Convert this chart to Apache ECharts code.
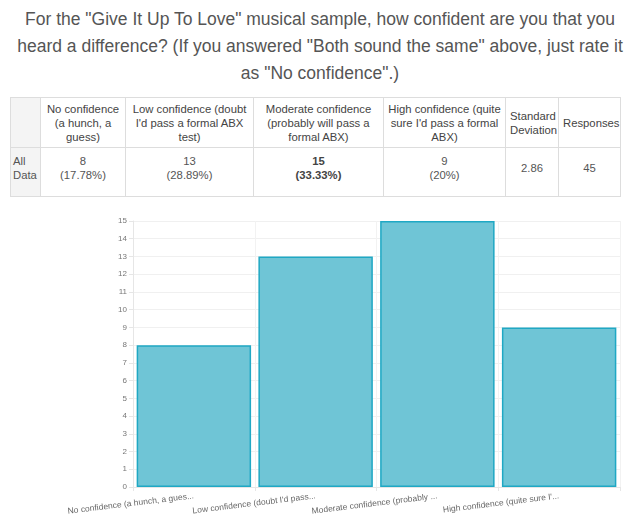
<!DOCTYPE html>
<html lang="en">
  <head>
    <meta charset="UTF-8" />
    <title>Give It Up To Love - confidence</title>
    <script src="https://cdn.jsdelivr.net/npm/echarts@6/dist/echarts.min.js"></script>
    <style>
      body { margin: 0; background: #fff; font-family: "Liberation Sans", Arial, sans-serif; color: #555; }
      #title { position: absolute; left: 12px; top: 6px; width: 616px; text-align: center; font-size: 17.5px; line-height: 27px; }
      #tbl { position: absolute; left: 10px; top: 97px; width: 610px; border-collapse: collapse; table-layout: fixed; font-size: 11.3px; line-height: 14px; }
      #tbl td, #tbl th { border: 1px solid #ddd; text-align: center; padding: 2px 4px; }
      #tbl th { font-weight: normal; color: #444; height: 45px; }
      #tbl td { height: 36px; padding-bottom: 10px; }
      #tbl .rowhead { background: #f4f4f4; text-align: left; padding-left: 2px; padding-right: 2px; }
      #tbl .hi { font-weight: bold; color: #444; }
      #chart { position: absolute; left: 0; top: 205px; width: 640px; height: 322px; }
    </style>
  </head>
  <body>
    <div id="title"></div>
    <table id="tbl">
      <colgroup>
        <col style="width: 30px" /><col style="width: 85px" /><col style="width: 128px" />
        <col style="width: 130px" /><col style="width: 122px" /><col style="width: 53px" /><col style="width: 62px" />
      </colgroup>
    </table>
    <div id="chart"></div>

    <script>
      const titleText = 'For the "Give It Up To Love" musical sample, how confident are you that you heard a difference? (If you answered "Both sound the same" above, just rate it as "No confidence".)';
      const categories = [
        "No confidence (a hunch, a guess)",
        "Low confidence (doubt I'd pass a formal ABX test)",
        "Moderate confidence (probably will pass a formal ABX)",
        "High confidence (quite sure I'd pass a formal ABX)",
      ];
      const tickLabels = [
        "No confidence (a hunch, a gues...",
        "Low confidence (doubt I'd pass...",
        "Moderate confidence (probably ...",
        "High confidence (quite sure I'...",
      ];
      const counts = [8, 13, 15, 9];
      const percents = ["17.78%", "28.89%", "33.33%", "20%"];
      const stdDev = "2.86";
      const responses = 45;

      document.getElementById("title").textContent = titleText;

      // table above the chart
      const maxCount = Math.max(...counts);
      let head = '<tr><th class="rowhead"></th>';
      categories.forEach((c) => (head += "<th>" + c + "</th>"));
      head += "<th>Standard Deviation</th><th>Responses</th></tr>";
      let row = '<tr><td class="rowhead">All Data</td>';
      counts.forEach((n, i) => {
        const cls = n === maxCount ? ' class="hi"' : "";
        row += "<td" + cls + ">" + n + "<br>(" + percents[i] + ")</td>";
      });
      row += "<td>" + stdDev + "</td><td>" + responses + "</td></tr>";
      document.getElementById("tbl").insertAdjacentHTML("beforeend", head + row);

      const chart = echarts.init(document.getElementById("chart"));
      chart.setOption({
        animation: false,
        grid: { left: 133, right: 20, top: 16, bottom: 40 },
        xAxis: {
          type: "category",
          data: categories,
          axisLine: { lineStyle: { color: "#e6e6e6" } },
          axisTick: { show: true, length: 4, lineStyle: { color: "#e6e6e6" } },
          splitLine: { show: true, lineStyle: { color: "#f2f2f2" } },
          axisLabel: {
            interval: 0,
            rotate: 7,
            fontSize: 8.5,
            color: "#666",
            margin: 9,
            formatter: (v, i) => tickLabels[i],
          },
        },
        yAxis: {
          type: "value",
          min: 0,
          max: 15,
          interval: 1,
          axisLine: { show: true, lineStyle: { color: "#e6e6e6" } },
          axisTick: { show: true, length: 4, lineStyle: { color: "#e6e6e6" } },
          splitLine: { lineStyle: { color: "#f0f0f0" } },
          axisLabel: { fontSize: 8, color: "#777", margin: 6 },
        },
        series: [
          {
            type: "bar",
            data: counts,
            barCategoryGap: "6%",
            itemStyle: { color: "#6fc5d6", borderColor: "#1fa8c4", borderWidth: 1.5 },
          },
        ],
      });
    </script>
  </body>
</html>
